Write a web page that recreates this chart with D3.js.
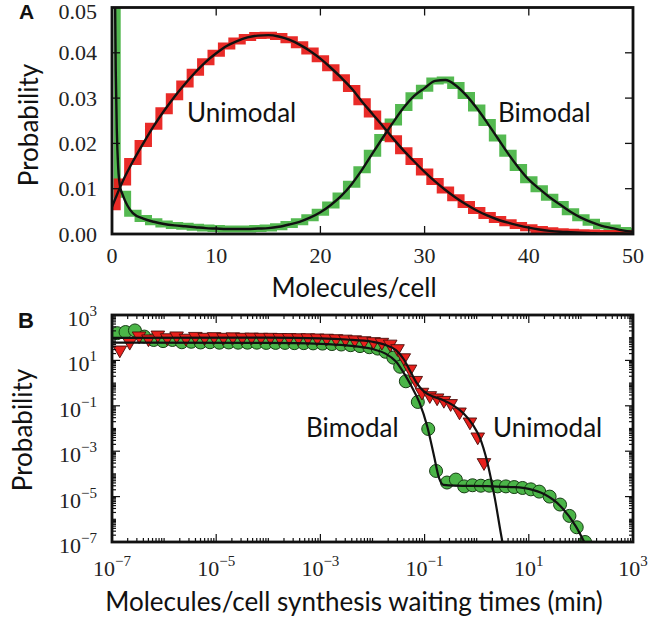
<!DOCTYPE html>
<html><head><meta charset="utf-8">
<script src="https://cdn.jsdelivr.net/npm/d3@7"></script>
<style>body{margin:0;background:#fff}</style>
</head><body><svg id="c" width="652" height="631"></svg>
<script>
// ---------- Panel A data ----------
const molecules = d3.range(0, 51);
const unimodalProb = [0.0060,0.0115,0.0160,0.0200,0.0238,0.0272,0.0303,0.0331,0.0357,0.0380,
  0.0399,0.0415,0.0426,0.0434,0.0438,0.0439,0.0436,0.0429,0.0418,0.0404,
  0.0387,0.0367,0.0345,0.0321,0.0292,0.0265,0.0238,0.0210,0.0184,0.0160,
  0.0137,0.0116,0.0097,0.0080,0.0065,0.0052,0.0041,0.0032,0.0025,0.0019,
  0.0014,0.0010,0.0007,0.0005,0.0004,0.0003,0.0002,0.0001,0.0001,0.0001,0.0000];
const bimodalProb = [0.15,0.0088,0.0046,0.0034,0.0027,0.0022,0.0019,0.0017,0.0015,0.0013,
  0.0012,0.0011,0.0011,0.0011,0.0012,0.0013,0.0016,0.0021,0.0027,0.0036,
  0.0048,0.0064,0.0084,0.0110,0.0142,0.0178,0.0213,0.0247,0.0279,0.0305,
  0.0322,0.0338,0.0340,0.0328,0.0306,0.0278,0.0246,0.0212,0.0178,0.0147,
  0.0120,0.0100,0.0081,0.0065,0.0049,0.0036,0.0026,0.0018,0.0013,0.0008,0.0005];
// black fit near zero for the bimodal curve (molecules, probability)
const bimodalFitHead = [[0.2,0.09],[0.28,0.055],[0.36,0.036],[0.46,0.023],[0.6,0.0145],[0.8,0.0102]];
const xTicksA = [0,10,20,30,40,50];
const yTicksA = [0.00,0.01,0.02,0.03,0.04,0.05];

// ---------- Panel B data (log10 waiting time, log10 probability) ----------
const unimodalWait = [[-6.85,1.46],[-6.66,1.80],[-6.48,2.08],[-6.30,1.95],[-6.12,2.12],[-5.94,2.00],
  [-5.76,2.08],[-5.58,1.98],[-5.40,2.06],[-5.22,2.02],[-5.04,2.05],[-4.86,2.02],[-4.68,2.04],
  [-4.50,2.02],[-4.32,2.03],[-4.14,2.02],[-3.96,2.02],[-3.78,2.01],[-3.60,2.01],[-3.42,2.00],
  [-3.24,2.00],[-3.06,1.99],[-2.88,1.98],[-2.70,1.96],[-2.52,1.94],[-2.34,1.91],[-2.16,1.87],
  [-1.98,1.83],[-1.82,1.80],[-1.66,1.72],[-1.52,1.52],[-1.40,1.12],[-1.28,0.62],[-1.17,0.12],
  [-1.05,-0.40],[-0.90,-0.55],[-0.76,-0.65],[-0.63,-0.76],[-0.50,-0.90],[-0.33,-1.27],
  [-0.13,-1.71],[0.02,-2.37],[0.14,-3.50]];
const bimodalWait = [[-6.90,2.20],[-6.74,2.25],[-6.56,2.32],[-6.38,2.05],[-6.20,1.90],[-6.02,1.85],
  [-5.84,1.90],[-5.66,1.80],[-5.48,1.82],[-5.30,1.79],[-5.12,1.80],[-4.94,1.78],[-4.76,1.79],
  [-4.58,1.78],[-4.40,1.78],[-4.22,1.78],[-4.04,1.77],[-3.86,1.77],[-3.68,1.77],[-3.50,1.76],
  [-3.32,1.76],[-3.14,1.75],[-2.96,1.74],[-2.78,1.72],[-2.60,1.70],[-2.42,1.67],[-2.24,1.63],
  [-2.06,1.58],[-1.90,1.52],[-1.75,1.38],[-1.60,1.12],[-1.47,0.72],[-1.36,0.08],[-1.13,-0.83],
  [-0.93,-2.02],[-0.78,-3.87],[-0.57,-4.38],[-0.40,-4.25],[-0.24,-4.55],[-0.08,-4.50],
  [0.08,-4.52],[0.24,-4.52],[0.40,-4.55],[0.56,-4.55],[0.72,-4.58],[0.88,-4.62],[1.04,-4.68],
  [1.20,-4.78],[1.40,-5.00],[1.60,-5.35],[1.78,-5.85],[1.92,-6.35],[2.08,-7.00]];
const unimodalWaitFit = [[-7,1.99],[-4,2.0],[-3,1.97],[-2.5,1.92],[-2,1.82],[-1.75,1.68],[-1.55,1.45],
  [-1.4,1.05],[-1.27,0.5],[-1.15,0.0],[-1.0,-0.4],[-0.85,-0.58],[-0.65,-0.74],[-0.45,-0.98],
  [-0.26,-1.32],[-0.07,-1.85],[0.06,-2.4],[0.2,-3.45],[0.35,-5.1],[0.49,-6.95],[0.55,-7.6]];
const bimodalWaitFit = [[-7,1.78],[-4,1.77],[-3,1.73],[-2.5,1.66],[-2,1.5],[-1.75,1.3],[-1.55,0.95],
  [-1.4,0.45],[-1.25,-0.15],[-1.1,-0.85],[-0.95,-1.9],[-0.82,-3.2],[-0.72,-4.2],[-0.64,-4.48],
  [-0.4,-4.52],[0.2,-4.54],[0.7,-4.58],[1.0,-4.66],[1.3,-4.9],[1.6,-5.4],[1.9,-6.3],[2.15,-7.4]];
const xTickExpB = [-7,-5,-3,-1,1,3];
const yTickExpB = [3,1,-1,-3,-5,-7];

// ---------- styles ----------
const RED = "#e8201c", GREEN = "#4bb548";
const SERIF = "'Liberation Serif', 'Times New Roman', serif";
const SANS = "Lato, 'Open Sans', sans-serif";

const svg = d3.select("#c");
const defs = svg.append("defs");

// ---------- Panel A ----------
const A = {l:112, r:633, t:7.5, b:234};
const xA = d3.scaleLinear().domain([0,50]).range([A.l, A.r]);
const yA = d3.scaleLinear().domain([0,0.05]).range([A.b, A.t]);
defs.append("clipPath").attr("id","clipA").append("rect")
  .attr("x",A.l).attr("y",A.t).attr("width",A.r-A.l).attr("height",A.b-A.t);

const gA = svg.append("g").attr("clip-path","url(#clipA)");
const stepLine = d3.line().x(d=>xA(d[0])).y(d=>yA(d[1])).curve(d3.curveStep);
const greenPts = molecules.map((m,i)=>[m,bimodalProb[i]]);
const redPts = molecules.map((m,i)=>[m,unimodalProb[i]]);
gA.append("path").attr("d",stepLine(greenPts)).attr("fill","none")
  .attr("stroke",GREEN).attr("stroke-width",7).attr("opacity",0.95);
gA.append("path").attr("d",stepLine(redPts)).attr("fill","none")
  .attr("stroke",RED).attr("stroke-width",7).attr("opacity",0.95);
const smooth = d3.line().x(d=>xA(d[0])).y(d=>yA(d[1])).curve(d3.curveMonotoneX);
gA.append("path").attr("d",smooth(redPts)).attr("fill","none")
  .attr("stroke","#111").attr("stroke-width",2.4);
const greenFit = bimodalFitHead.concat(greenPts.slice(1));
gA.append("path").attr("d",smooth(greenFit)).attr("fill","none")
  .attr("stroke","#111").attr("stroke-width",2.4);
gA.append("path").attr("d",smooth([[0.08,0.3],[0.2,0.09]])).attr("fill","none")
  .attr("stroke","#111").attr("stroke-width",2.4);

// ticks A
const tA = svg.append("g").attr("stroke","#111").attr("stroke-width",1.3);
xTicksA.forEach(v=>{
  if (v>0 && v<50){
    tA.append("line").attr("x1",xA(v)).attr("x2",xA(v)).attr("y1",A.b).attr("y2",A.b-8);
    tA.append("line").attr("x1",xA(v)).attr("x2",xA(v)).attr("y1",A.t).attr("y2",A.t+8);
  }
});
yTicksA.forEach(v=>{
  if (v>0 && v<0.05){
    tA.append("line").attr("y1",yA(v)).attr("y2",yA(v)).attr("x1",A.l).attr("x2",A.l+8);
    tA.append("line").attr("y1",yA(v)).attr("y2",yA(v)).attr("x1",A.r).attr("x2",A.r-8);
  }
});
svg.append("rect").attr("x",A.l).attr("y",A.t).attr("width",A.r-A.l).attr("height",A.b-A.t)
  .attr("fill","none").attr("stroke","#111").attr("stroke-width",2.8);
xTicksA.forEach(v=>{
  svg.append("text").attr("x",xA(v)).attr("y",263).attr("text-anchor","middle")
    .attr("font-family",SERIF).attr("font-size",22).attr("fill","#222").text(d3.format("d")(v));
});
yTicksA.forEach(v=>{
  svg.append("text").attr("x",97).attr("y",Math.max(yA(v)+7.5,19)).attr("text-anchor","end")
    .attr("font-family",SERIF).attr("font-size",22).attr("fill","#222").text(d3.format(".2f")(v));
});
svg.append("text").attr("x",354).attr("y",297).attr("text-anchor","middle")
  .attr("font-family",SANS).attr("font-size",26).attr("fill","#111").text("Molecules/cell");
svg.append("text").attr("transform","translate(38,125) rotate(-90)").attr("text-anchor","middle")
  .attr("font-family",SANS).attr("font-size",26).attr("fill","#111").text("Probability");
svg.append("text").attr("x",187).attr("y",122).attr("font-family",SANS).attr("font-size",26)
  .attr("fill","#111").text("Unimodal");
svg.append("text").attr("x",498).attr("y",122).attr("font-family",SANS).attr("font-size",26)
  .attr("fill","#111").text("Bimodal");
svg.append("text").attr("x",19).attr("y",19).attr("font-family","'Liberation Sans', Arial, sans-serif")
  .attr("font-weight","bold").attr("font-size",21).attr("fill","#111").text("A");

// ---------- Panel B ----------
const B = {l:112, r:633, t:315, b:542};
const xB = d3.scaleLog().domain([1e-7,1e3]).range([B.l,B.r]);
const yB = d3.scaleLog().domain([1e-7,1e3]).range([B.b,B.t]);
defs.append("clipPath").attr("id","clipB").append("rect")
  .attr("x",B.l).attr("y",B.t).attr("width",B.r-B.l).attr("height",B.b-B.t);
const gB = svg.append("g").attr("clip-path","url(#clipB)");
const p10 = e => Math.pow(10,e);

gB.selectAll("circle.g").data(bimodalWait).join("circle")
  .attr("cx",d=>xB(p10(d[0]))).attr("cy",d=>yB(p10(d[1]))).attr("r",6.5)
  .attr("fill",GREEN).attr("stroke","#173d14").attr("stroke-width",1);
const tri = d3.symbol().type(d3.symbolTriangle).size(80);
gB.selectAll("path.r").data(unimodalWait).join("path")
  .attr("d",tri).attr("transform",d=>`translate(${xB(p10(d[0]))},${yB(p10(d[1]))}) rotate(180)`)
  .attr("fill",RED).attr("stroke","#4a0d0a").attr("stroke-width",0.9);
const logLine = d3.line().x(d=>xB(p10(d[0]))).y(d=>yB(p10(d[1]))).curve(d3.curveMonotoneX);
gB.append("path").attr("d",logLine(unimodalWaitFit)).attr("fill","none")
  .attr("stroke","#111").attr("stroke-width",2.2);
gB.append("path").attr("d",logLine(bimodalWaitFit)).attr("fill","none")
  .attr("stroke","#111").attr("stroke-width",2.2);

// ticks B
const tB = svg.append("g").attr("stroke","#111").attr("stroke-width",1.2);
for (let k=-7;k<3;k++){
  for (let s=1;s<10;s++){
    const v = s*Math.pow(10,k);
    const major = (s===1 && Math.abs(k)%2===1);
    if (s===1 && k===-7) continue;
    const len = major?8:4;
    const xv = xB(v), yv = yB(v);
    tB.append("line").attr("x1",xv).attr("x2",xv).attr("y1",B.b).attr("y2",B.b-len);
    tB.append("line").attr("x1",xv).attr("x2",xv).attr("y1",B.t).attr("y2",B.t+len);
    tB.append("line").attr("y1",yv).attr("y2",yv).attr("x1",B.l).attr("x2",B.l+len);
    tB.append("line").attr("y1",yv).attr("y2",yv).attr("x1",B.r).attr("x2",B.r-len);
  }
}
svg.append("rect").attr("x",B.l).attr("y",B.t).attr("width",B.r-B.l).attr("height",B.b-B.t)
  .attr("fill","none").attr("stroke","#111").attr("stroke-width",2.8);
function powLabel(sel, e){
  sel.append("tspan").text("10");
  sel.append("tspan").attr("dy",-10).attr("font-size",15).text(e<0?"\u2212"+(-e):String(e));
}
xTickExpB.forEach(e=>{
  const t = svg.append("text").attr("x",xB(p10(e))).attr("y",576).attr("text-anchor","middle")
    .attr("font-family",SERIF).attr("font-size",22).attr("fill","#222");
  powLabel(t,e);
});
yTickExpB.forEach(e=>{
  const t = svg.append("text").attr("x",97).attr("y",yB(p10(e))+11).attr("text-anchor","end")
    .attr("font-family",SERIF).attr("font-size",22).attr("fill","#222");
  powLabel(t,e);
});
svg.append("text").attr("x",354).attr("y",611).attr("text-anchor","middle")
  .attr("font-family",SANS).attr("font-size",26).attr("fill","#111")
  .text("Molecules/cell synthesis waiting times (min)");
svg.append("text").attr("transform","translate(32,430) rotate(-90)").attr("text-anchor","middle")
  .attr("font-family",SANS).attr("font-size",26).attr("fill","#111").text("Probability");
svg.append("text").attr("x",306).attr("y",437).attr("font-family",SANS).attr("font-size",26)
  .attr("fill","#111").text("Bimodal");
svg.append("text").attr("x",493).attr("y",437).attr("font-family",SANS).attr("font-size",26)
  .attr("fill","#111").text("Unimodal");
svg.append("text").attr("x",18).attr("y",328).attr("font-family","'Liberation Sans', Arial, sans-serif")
  .attr("font-weight","bold").attr("font-size",22).attr("fill","#111").text("B");
</script></body></html>
